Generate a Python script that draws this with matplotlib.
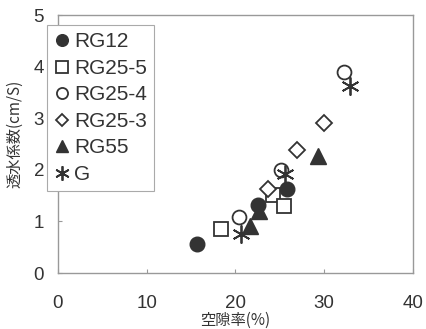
import matplotlib.pyplot as plt
import numpy as np

plt.rcParams["font.family"] = ["Liberation Sans", "Noto Sans CJK JP", "DejaVu Sans"]

# 空隙率(%) vs 透水係数(cm/S)
rg12_x = [15.7, 22.6, 25.8]
rg12_y = [0.57, 1.31, 1.62]
rg25_5_x = [18.4, 24.2, 25.5]
rg25_5_y = [0.86, 1.52, 1.30]
rg25_4_x = [20.4, 25.1, 32.3]
rg25_4_y = [1.08, 1.99, 3.90]
rg25_3_x = [23.7, 26.9, 30.0]
rg25_3_y = [1.63, 2.38, 2.90]
rg55_x = [21.7, 22.7, 29.3]
rg55_y = [0.91, 1.20, 2.27]
g_x = [20.6, 25.6, 32.9]
g_y = [0.75, 1.92, 3.62]

ink = "#333333"
cjk = ["Noto Sans CJK JP", "DejaVu Sans"]

fig = plt.figure(figsize=(4.26, 3.29), dpi=100)
ax = fig.add_axes([0.136, 0.170, 0.833, 0.784])

ax.plot(rg12_x, rg12_y, "o", ms=10.5, color=ink, mec=ink, label="RG12")
ax.plot(rg25_5_x, rg25_5_y, "s", ms=10, mfc="white", mec=ink, mew=1.3, label="RG25-5")
ax.plot(rg25_4_x, rg25_4_y, "o", ms=10, mfc="white", mec=ink, mew=1.3, label="RG25-4")
ax.plot(rg25_3_x, rg25_3_y, "D", ms=8, mfc="white", mec=ink, mew=1.3, label="RG25-3")
ax.plot(rg55_x, rg55_y, "^", ms=11, color=ink, mec=ink, label="RG55")
ax.plot(g_x, g_y, marker=(6, 2, 0), ls="none", ms=13, mec=ink, mew=1.3, label="G")

ax.set_xlim(0, 40)
ax.set_ylim(0, 5)
ax.set_xticks([0, 10, 20, 30, 40])
ax.set_yticks([0, 1, 2, 3, 4, 5])
ax.tick_params(axis="x", direction="in", length=3, pad=16, labelsize=13.5, colors="#999999", labelcolor=ink)
ax.tick_params(axis="y", direction="in", length=3, pad=10, labelsize=13.5, colors="#999999", labelcolor=ink)
for s in ax.spines.values():
    s.set_color("#999999")
    s.set_linewidth(1.0)

ax.set_xlabel("空隙率(%)", fontsize=11, color=ink, family=cjk)
ax.set_ylabel("透水係数(cm/S)", fontsize=11, color=ink, family=cjk)
ax.xaxis.set_label_coords(0.5, -0.152)
ax.yaxis.set_label_coords(-0.098, 0.54)

leg = ax.legend(loc="upper left", bbox_to_anchor=(-0.031, 0.961), borderaxespad=0,
                fancybox=False, edgecolor="#aaaaaa", fontsize=15, handlelength=0.75,
                handletextpad=0.2, labelspacing=0.36, borderpad=0.35, framealpha=1,
                markerscale=0.8)
for t in leg.get_texts():
    t.set_color(ink)
leg.get_frame().set_linewidth(0.8)

fig.savefig("out.png", dpi=100)
